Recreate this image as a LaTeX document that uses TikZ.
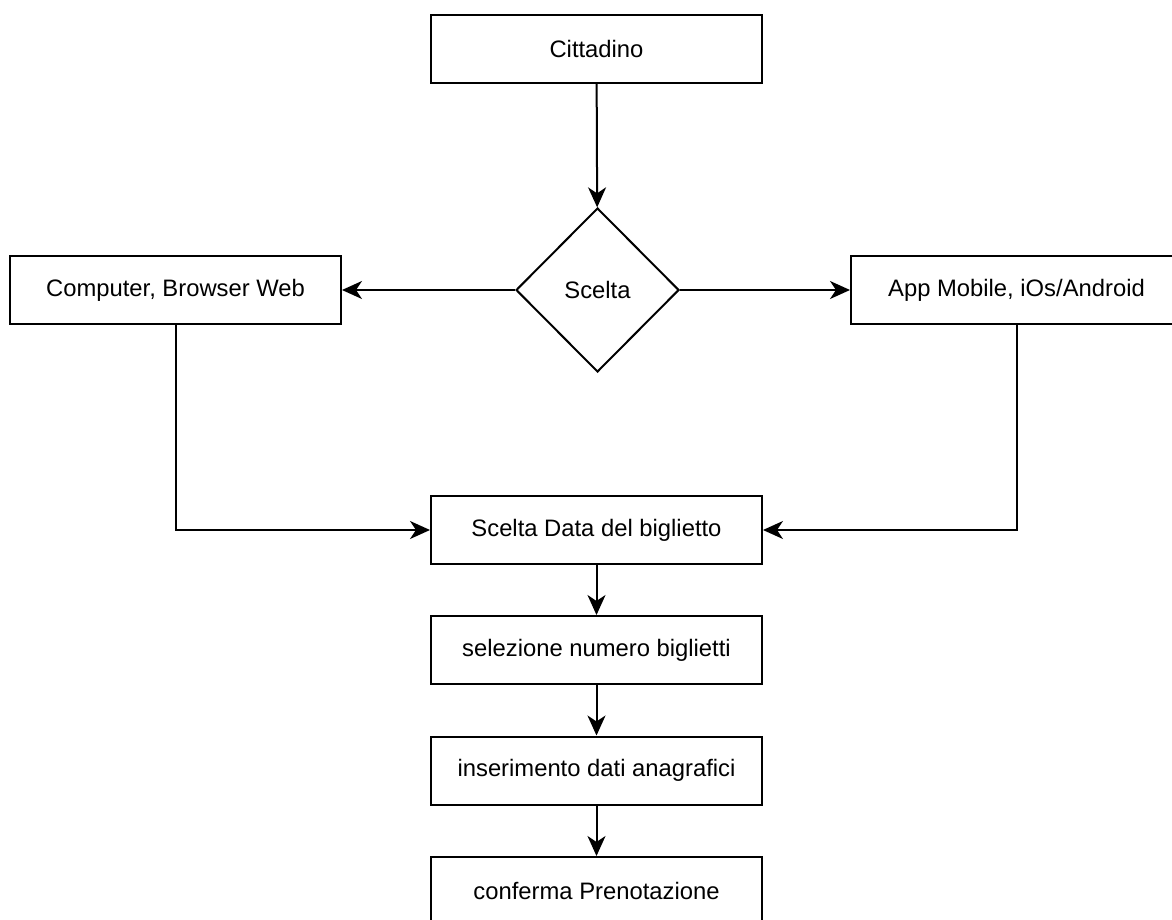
\documentclass[tikz,border=0pt]{standalone}
\usepackage{fontspec}
\setmainfont{Liberation Sans}
\usetikzlibrary{shapes.geometric,arrows.meta}

\begin{document}
\begin{tikzpicture}[x=0.5pt,y=-0.5pt,
    box/.style={draw,line width=1pt,minimum width=165.5pt,minimum height=34pt,inner sep=0pt,font=\fontsize{11.9}{14.3}\selectfont},
    choice/.style={draw,diamond,aspect=1,line width=1pt,minimum width=81.5pt,minimum height=82pt,inner sep=0pt,font=\fontsize{11.9}{14.3}\selectfont},
    flow/.style={line width=1pt,-{Stealth[length=10pt,width=9pt,inset=3pt]}}]
    \useasboundingbox (0,0) rectangle (1172,920);

    % Nodes
    \node[box] (cit) at (596.5,49) {Cittadino};
    \node[choice] (sce) at (597.5,290) {Scelta};
    \node[box] (comp) at (175.5,290) {Computer, Browser Web};
    \node[box] (app) at (1016.5,290) {App Mobile, iOs/Android};
    \node[box] (data) at (596.5,530) {Scelta Data del biglietto};
    \node[box] (sel) at (596.5,650) {selezione numero biglietti};
    \node[box] (ins) at (596.5,770.5) {inserimento dati anagrafici};
    \node[box] (conf) at (596.5,891) {conferma Prenotazione};

    % Connectors
    \draw[flow] (cit) -- (sce);
    \draw[flow] (sce) -- (comp);
    \draw[flow] (sce) -- (app);
    \draw[flow] (comp.south) |- (data.west);
    \draw[flow] (app.south) |- (data.east);
    \foreach \a/\b in {data/sel, sel/ins, ins/conf}
        \draw[flow] (\a) -- (\b);
\end{tikzpicture}
\end{document}
